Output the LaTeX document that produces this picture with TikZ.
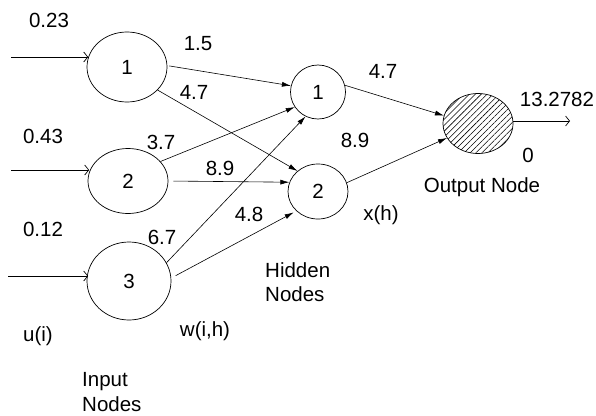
\documentclass[tikz,border=0pt]{standalone}
\usepackage{fontspec}
\setmainfont{Liberation Sans}
\usetikzlibrary{shapes.geometric,arrows.meta,patterns.meta}
\begin{document}
\begin{tikzpicture}[x=1pt,y=-1pt,
  neuron/.style={draw,ellipse,inner sep=0pt,line width=0.7pt},
  lbl/.style={inner sep=0pt,font=\fontsize{20.5}{24}\selectfont},
  feed/.style={line width=0.6pt,-{Latex[length=9pt,width=5pt]}},
  inarrow/.style={line width=0.7pt,-{Straight Barb[length=4pt,width=10pt]}}]
\useasboundingbox (0,0) rectangle (596,415);

% input layer
\node[neuron,minimum width=80pt,minimum height=70pt] (in1) at (127,67) {};
\node[neuron,minimum width=80pt,minimum height=65pt] (in2) at (128,181) {};
\node[neuron,minimum width=84pt,minimum height=78pt] (in3) at (129,281) {};
\node[lbl] at (in1) {1};
\node[lbl] at (in2) {2};
\node[lbl] at (in3) {3};

% hidden layer
\node[neuron,minimum width=55pt,minimum height=54pt] (h1) at (318,92) {};
\node[neuron,minimum width=60pt,minimum height=55pt] (h2) at (318,191.5) {};
\node[lbl] at (h1) {1};
\node[lbl] at (h2) {2};

% output node, hatched
\node[neuron,minimum width=70pt,minimum height=60pt,
  pattern={Lines[angle=45,distance=4.2pt,line width=0.55pt]}] (out) at (478,123.5) {};

% external inputs
\coordinate (u1) at (11,57);
\coordinate (u2) at (11,170);
\coordinate (u3) at (8,276);
\draw[inarrow] (u1) -- ([xshift=1.5pt]u1 -| in1.west);
\draw[inarrow] (u2) -- ([xshift=1.5pt]u2 -| in2.west);
\draw[inarrow] (u3) -- ([xshift=1.5pt]u3 -| in3.west);

% weighted connections
\draw[feed,shorten <=2pt] (in1.2) -- (h1.167);
\draw[feed] (in1.-37) -- (h2.135);
\draw[feed] (in2.31) -- (h1.213);
\draw[feed,shorten <=5pt] (in2.0) -- (h2.162);
\draw[feed] (in3.26) -- (h1.243);
\draw[feed,shorten <=5pt,shorten >=3pt] (in3.4) -- (h2.222);
\draw[feed] (h1.14) -- (out.167);
\draw[feed] (h2.17) -- (out.205);

% network output
\coordinate (y) at (570,121);
\draw[inarrow] (y -| out.east) -- (y);

% labels
\node[lbl] at (49,20) {0.23};
\node[lbl] at (43,136) {0.43};
\node[lbl] at (43,229) {0.12};
\node[lbl] at (198,44) {1.5};
\node[lbl] at (194,92) {4.7};
\node[lbl] at (161,142) {3.7};
\node[lbl] at (220,168) {8.9};
\node[lbl] at (249,214) {4.8};
\node[lbl] at (162,237) {6.7};
\node[lbl] at (383,71) {4.7};
\node[lbl] at (355,140) {8.9};
\node[lbl] at (381,215) {x(h)};
\node[lbl] at (557,99) {13.2782};
\node[lbl] at (528,155) {0};
\node[lbl] at (482,187) {Output Node};
\node[lbl] at (38,336) {u(i)};
\node[lbl] at (205,331) {w(i,h)};
\node[lbl,anchor=west] at (82,382) {Input};
\node[lbl,anchor=west] at (82,404) {Nodes};
\node[lbl,anchor=west] at (265,270) {Hidden};
\node[lbl,anchor=west] at (265,294) {Nodes};
\end{tikzpicture}
\end{document}
